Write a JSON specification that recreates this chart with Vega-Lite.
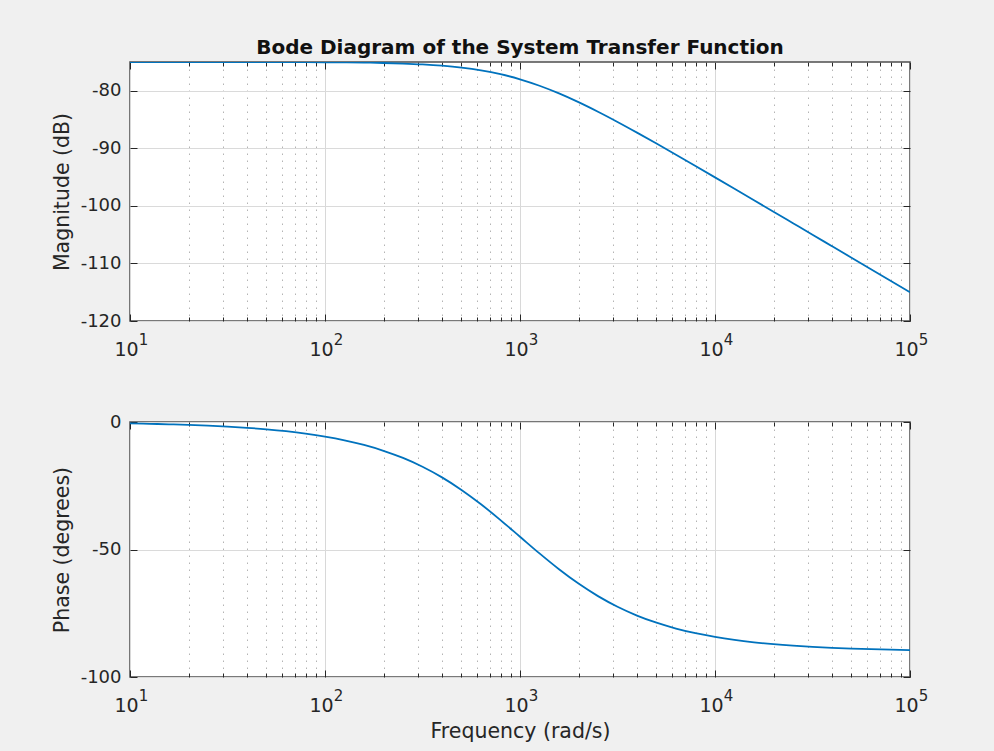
{
  "$schema": "https://vega.github.io/schema/vega-lite/v6.json",
  "autosize": {"type": "none"},
  "padding": {"left": 130, "top": 62, "right": 864, "bottom": 689},
  "background": "#f0f0f0",
  "bounds": "flush",
  "spacing": 101,
  "config": {
    "font": "DejaVu Sans",
    "view": {"stroke": "#4d4d4d", "strokeWidth": 1.5, "fill": "#ffffff"},
    "axis": {
      "domain": false,
      "labelFont": "DejaVu Sans",
      "labelFontSize": 18,
      "labelColor": "#262626",
      "titleFont": "DejaVu Sans",
      "titleFontSize": 20.5,
      "titleFontWeight": "normal",
      "titleColor": "#262626",
      "tickColor": "#262626",
      "tickWidth": 1,
      "gridColor": "#dadada",
      "gridWidth": 1,
      "labelFlush": false,
      "labelOverlap": false,
      "labelBound": false
    }
  },
  "data": {
    "values": [
      {"w": 10, "mag": -75.000, "phase": -0.573},
      {"w": 12.589, "mag": -75.001, "phase": -0.721},
      {"w": 15.849, "mag": -75.001, "phase": -0.908},
      {"w": 19.953, "mag": -75.002, "phase": -1.143},
      {"w": 25.119, "mag": -75.003, "phase": -1.439},
      {"w": 31.623, "mag": -75.004, "phase": -1.811},
      {"w": 39.811, "mag": -75.007, "phase": -2.280},
      {"w": 50.119, "mag": -75.011, "phase": -2.869},
      {"w": 63.096, "mag": -75.017, "phase": -3.610},
      {"w": 79.433, "mag": -75.027, "phase": -4.542},
      {"w": 100, "mag": -75.043, "phase": -5.711},
      {"w": 125.89, "mag": -75.068, "phase": -7.175},
      {"w": 158.49, "mag": -75.108, "phase": -9.006},
      {"w": 199.53, "mag": -75.170, "phase": -11.285},
      {"w": 251.19, "mag": -75.266, "phase": -14.100},
      {"w": 316.23, "mag": -75.414, "phase": -17.548},
      {"w": 398.11, "mag": -75.639, "phase": -21.715},
      {"w": 501.19, "mag": -75.973, "phase": -26.628},
      {"w": 630.96, "mag": -76.455, "phase": -32.259},
      {"w": 794.33, "mag": -77.124, "phase": -38.466},
      {"w": 1000, "mag": -78.010, "phase": -45.000},
      {"w": 1258.9, "mag": -79.124, "phase": -51.534},
      {"w": 1584.9, "mag": -80.455, "phase": -57.741},
      {"w": 1995.3, "mag": -81.973, "phase": -63.372},
      {"w": 2511.9, "mag": -83.639, "phase": -68.285},
      {"w": 3162.3, "mag": -85.414, "phase": -72.452},
      {"w": 3981.1, "mag": -87.266, "phase": -75.900},
      {"w": 5011.9, "mag": -89.170, "phase": -78.715},
      {"w": 6309.6, "mag": -91.108, "phase": -80.994},
      {"w": 7943.3, "mag": -93.068, "phase": -82.825},
      {"w": 10000, "mag": -95.043, "phase": -84.289},
      {"w": 12589, "mag": -97.027, "phase": -85.458},
      {"w": 15849, "mag": -99.017, "phase": -86.390},
      {"w": 19953, "mag": -101.011, "phase": -87.131},
      {"w": 25119, "mag": -103.007, "phase": -87.720},
      {"w": 31623, "mag": -105.004, "phase": -88.189},
      {"w": 39811, "mag": -107.003, "phase": -88.561},
      {"w": 50119, "mag": -109.002, "phase": -88.857},
      {"w": 63096, "mag": -111.001, "phase": -89.092},
      {"w": 79433, "mag": -113.001, "phase": -89.279},
      {"w": 100000, "mag": -115.000, "phase": -89.427}
    ]
  },
  "vconcat": [
    {
      "width": 780,
      "height": 259,
      "title": {"text": "Bode Diagram of the System Transfer Function", "font": "DejaVu Sans", "fontSize": 20, "fontWeight": "bold", "color": "#111111", "anchor": "middle", "frame": "group", "offset": -12, "baseline": "alphabetic"},
      "resolve": {"axis": {"x": "independent", "y": "independent"}},
      "layer": [
        {
          "mark": {"type": "line", "color": "#0072BD", "strokeWidth": 1.8, "interpolate": "monotone", "clip": true},
          "encoding": {
            "x": {"field": "w", "type": "quantitative", "scale": {"type": "log", "domain": [10, 100000], "nice": false},
              "axis": {"orient": "bottom", "title": null,
                "values": [10,20,30,40,50,60,70,80,90,100,200,300,400,500,600,700,800,900,1000,2000,3000,4000,5000,6000,7000,8000,9000,10000,20000,30000,40000,50000,60000,70000,80000,90000,100000],
                "labelExpr": "indexof([10,100,1000,10000,100000], datum.value) >= 0 ? '10' : ''",
                "labelFontSize": 19, "labelPadding": 26, "labelOffset": -4, "labelBaseline": "top",
                "tickSize": {"condition": {"test": "indexof([10,100,1000,10000,100000], datum.value) >= 0", "value": -7}, "value": -4},
                "grid": true,
                "gridDash": {"condition": {"test": "indexof([10,100,1000,10000,100000], datum.value) >= 0", "value": []}, "value": [1.5, 5.5]},
                "gridColor": {"condition": {"test": "indexof([10,100,1000,10000,100000], datum.value) >= 0", "value": "#d8d8d8"}, "value": "#b4b4b4"}
              }},
            "y": {"field": "mag", "type": "quantitative", "scale": {"domain": [-120, -75], "nice": false, "zero": false},
              "axis": {"orient": "left", "values": [-120,-110,-100,-90,-80], "labelExpr": "'' + datum.value", "tickSize": -7, "labelPadding": 16, "grid": true,
                "title": "Magnitude (dB)", "titleX": -62, "titleBaseline": "alphabetic"}}
          }
        },
        {
          "mark": {"type": "line", "strokeOpacity": 0},
          "encoding": {
            "x": {"field": "w", "type": "quantitative",
              "axis": {"orient": "top", "title": null, "labels": false, "grid": false,
                "values": [10,20,30,40,50,60,70,80,90,100,200,300,400,500,600,700,800,900,1000,2000,3000,4000,5000,6000,7000,8000,9000,10000,20000,30000,40000,50000,60000,70000,80000,90000,100000],
                "tickSize": {"condition": {"test": "indexof([10,100,1000,10000,100000], datum.value) >= 0", "value": -7}, "value": -4}}},
            "y": {"field": "mag", "type": "quantitative",
              "axis": {"orient": "right", "title": null, "labels": false, "grid": false, "values": [-120,-110,-100,-90,-80], "tickSize": -7}}
          }
        },
        {
          "mark": {"type": "line", "strokeOpacity": 0},
          "encoding": {
            "x": {"field": "w", "type": "quantitative",
              "axis": {"orient": "bottom", "title": null, "ticks": false, "grid": false,
                "values": [10,100,1000,10000,100000],
                "labelExpr": "format(log(datum.value)/LN10, '.0f')",
                "labelFontSize": 15, "labelPadding": 11, "labelOffset": 13, "labelBaseline": "top"}},
            "y": {"field": "mag", "type": "quantitative", "axis": null}
          }
        }
      ]
    },
    {
      "width": 780,
      "height": 255,
      "resolve": {"axis": {"x": "independent", "y": "independent"}},
      "layer": [
        {
          "mark": {"type": "line", "color": "#0072BD", "strokeWidth": 1.8, "interpolate": "monotone", "clip": true},
          "encoding": {
            "x": {"field": "w", "type": "quantitative", "scale": {"type": "log", "domain": [10, 100000], "nice": false},
              "axis": {"orient": "bottom", "title": "Frequency (rad/s)", "titleY": 60, "titleBaseline": "alphabetic",
                "values": [10,20,30,40,50,60,70,80,90,100,200,300,400,500,600,700,800,900,1000,2000,3000,4000,5000,6000,7000,8000,9000,10000,20000,30000,40000,50000,60000,70000,80000,90000,100000],
                "labelExpr": "indexof([10,100,1000,10000,100000], datum.value) >= 0 ? '10' : ''",
                "labelFontSize": 19, "labelPadding": 26, "labelOffset": -4, "labelBaseline": "top",
                "tickSize": {"condition": {"test": "indexof([10,100,1000,10000,100000], datum.value) >= 0", "value": -7}, "value": -4},
                "grid": true,
                "gridDash": {"condition": {"test": "indexof([10,100,1000,10000,100000], datum.value) >= 0", "value": []}, "value": [1.5, 5.5]},
                "gridColor": {"condition": {"test": "indexof([10,100,1000,10000,100000], datum.value) >= 0", "value": "#d8d8d8"}, "value": "#b4b4b4"}
              }},
            "y": {"field": "phase", "type": "quantitative", "scale": {"domain": [-100, 0], "nice": false, "zero": false},
              "axis": {"orient": "left", "values": [-100,-50,0], "labelExpr": "'' + datum.value", "tickSize": -7, "labelPadding": 16, "grid": true,
                "title": "Phase (degrees)", "titleX": -62, "titleBaseline": "alphabetic"}}
          }
        },
        {
          "mark": {"type": "line", "strokeOpacity": 0},
          "encoding": {
            "x": {"field": "w", "type": "quantitative",
              "axis": {"orient": "top", "title": null, "labels": false, "grid": false,
                "values": [10,20,30,40,50,60,70,80,90,100,200,300,400,500,600,700,800,900,1000,2000,3000,4000,5000,6000,7000,8000,9000,10000,20000,30000,40000,50000,60000,70000,80000,90000,100000],
                "tickSize": {"condition": {"test": "indexof([10,100,1000,10000,100000], datum.value) >= 0", "value": -7}, "value": -4}}},
            "y": {"field": "phase", "type": "quantitative",
              "axis": {"orient": "right", "title": null, "labels": false, "grid": false, "values": [-100,-50,0], "tickSize": -7}}
          }
        },
        {
          "mark": {"type": "line", "strokeOpacity": 0},
          "encoding": {
            "x": {"field": "w", "type": "quantitative",
              "axis": {"orient": "bottom", "title": null, "ticks": false, "grid": false,
                "values": [10,100,1000,10000,100000],
                "labelExpr": "format(log(datum.value)/LN10, '.0f')",
                "labelFontSize": 15, "labelPadding": 11, "labelOffset": 13, "labelBaseline": "top"}},
            "y": {"field": "phase", "type": "quantitative", "axis": null}
          }
        }
      ]
    }
  ]
}
